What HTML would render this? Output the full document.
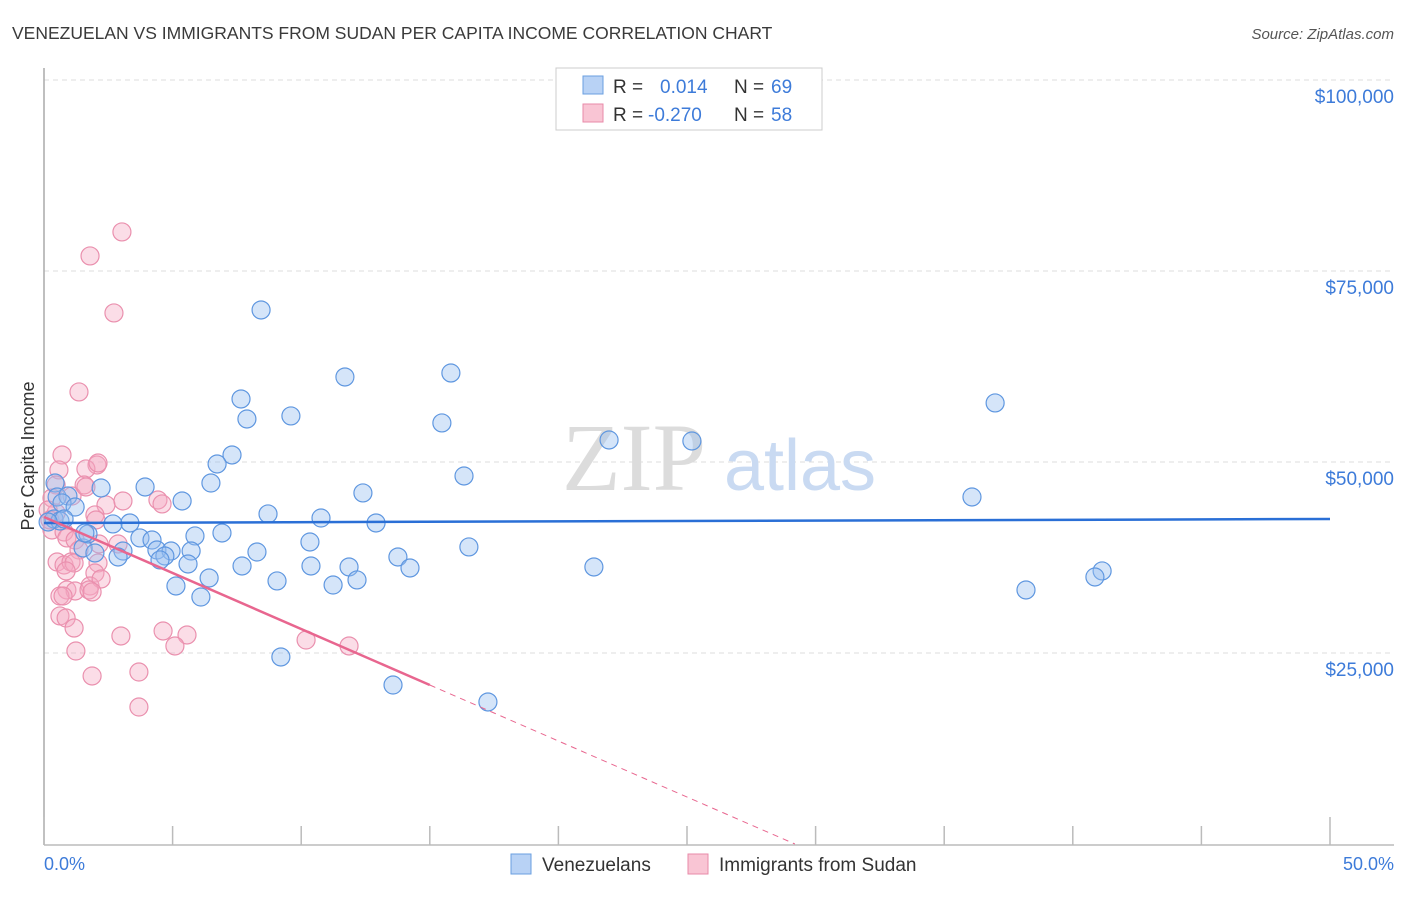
<!DOCTYPE html>
<html><head><meta charset="utf-8"><style>
body{margin:0;background:#fff;font-family:"Liberation Sans",sans-serif;}
svg text{font-family:"Liberation Sans",sans-serif;}
</style></head><body>
<svg id="chart" width="1406" height="892" xmlns="http://www.w3.org/2000/svg">
<text x="12" y="39" font-size="17.5" fill="#3a3a3a">VENEZUELAN VS IMMIGRANTS FROM SUDAN PER CAPITA INCOME CORRELATION CHART</text>
<text x="1394" y="39" font-size="15" fill="#555" text-anchor="end" font-style="italic">Source: ZipAtlas.com</text>
<g id="grid"></g>
<g>
<text x="634" y="490" font-size="96" fill="#dcdcdc" text-anchor="middle" font-family="Liberation Serif,serif" style="font-family:'Liberation Serif',serif">ZIP</text>
<text x="800" y="490" font-size="72" fill="#c9daf2" text-anchor="middle">atlas</text>
</g>
<line x1="44" y1="68" x2="44" y2="845" stroke="#aaa" stroke-width="1.5"/>
<line x1="44" y1="845" x2="1394" y2="845" stroke="#bbb" stroke-width="1.5"/>
<g id="xticks"></g>
<g id="ylabels"></g>
<text transform="translate(34,456) rotate(-90)" font-size="18" fill="#333" text-anchor="middle">Per Capita Income</text>
<text x="44" y="870" font-size="18" fill="#3d7bd9">0.0%</text>
<text x="1394" y="870" font-size="18" fill="#3d7bd9" text-anchor="end">50.0%</text>
<g id="pinkpts"></g>
<g id="bluepts"></g>
<g id="trends"></g>
<g>
<rect x="556" y="68" width="266" height="62" fill="#fff" stroke="#ccc"/>
<rect x="583" y="76" width="20" height="18" fill="#b8d2f5" stroke="#6a9fe0"/>
<rect x="583" y="104" width="20" height="18" fill="#f9c5d4" stroke="#e88aa8"/>
<text x="613" y="93" font-size="19" fill="#333">R = </text><text x="660" y="93" font-size="19" fill="#3d7bd9">0.014</text>
<text x="734" y="93" font-size="19" fill="#333">N = </text><text x="771" y="93" font-size="19" fill="#3d7bd9">69</text>
<text x="613" y="121" font-size="19" fill="#333">R = </text><text x="648" y="121" font-size="19" fill="#3d7bd9">-0.270</text>
<text x="734" y="121" font-size="19" fill="#333">N = </text><text x="771" y="121" font-size="19" fill="#3d7bd9">58</text>
</g>
<g>
<g><rect x="511" y="854" width="20" height="20" fill="#b8d2f5" stroke="#6a9fe0"/><text x="542" y="871" font-size="19" fill="#333">Venezuelans</text></g>
<g><rect x="688" y="854" width="20" height="20" fill="#f9c5d4" stroke="#e88aa8"/><text x="719" y="871" font-size="19" fill="#333">Immigrants from Sudan</text></g>
</g>
</svg>
<script>
const yTicks=[25000,50000,75000,100000];
const yTickLabels=["$25,000","$50,000","$75,000","$100,000"];
const xTicks=[0,5,10,15,20,25,30,35,40,45,50];
const blueX=[8.44,11.70,15.82,7.66,7.89,9.60,15.47,21.97,25.19,36.98,7.31,6.73,16.33,6.49,5.37,3.93,2.22,12.40,36.08,8.71,10.77,12.91,3.34,2.68,3.73,4.20,5.87,6.92,10.34,16.52,1.52,1.98,3.07,2.88,4.39,4.94,5.72,4.70,4.51,5.60,8.28,7.70,13.76,11.86,10.38,14.23,21.38,41.14,40.86,38.18,9.06,6.42,5.13,11.24,12.17,6.10,9.21,13.57,17.26,0.43,0.51,0.93,0.70,1.21,0.39,0.62,0.78,0.16,1.71,1.59];
const blueY=[69900,61130,61650,58250,55630,56030,55110,52880,52750,57730,50920,49740,48170,47250,44900,46730,46600,45950,45420,43200,42670,42020,42020,41890,40060,39790,40320,40710,39530,38880,38750,38090,38350,37570,38480,38350,38350,37700,37180,36650,38220,36390,37570,36260,36390,36130,36260,35740,34950,33250,34430,34820,33770,33900,34560,32330,24480,20810,18590,47250,45420,45550,44640,44110,42540,42280,42540,42150,40580,40710];
const pinkX=[3.03,1.79,2.72,1.36,0.70,0.58,2.06,1.63,2.10,0.47,1.56,1.09,1.63,2.41,0.31,3.07,4.43,4.59,0.47,0.31,0.78,1.98,2.02,0.89,2.14,1.21,2.88,1.36,0.51,0.78,1.05,1.17,0.86,2.10,1.98,1.79,2.22,0.89,1.21,1.75,0.62,1.87,0.62,0.74,0.86,1.17,2.99,4.63,5.56,5.09,10.19,11.86,1.24,1.87,3.69,3.69,0.16,0.23];
const pinkY=[80110,76970,69510,59170,50920,48960,49610,49090,49870,46990,46990,45550,46730,44380,45290,44900,45030,44510,43330,41100,40840,43070,42410,40060,39270,39790,39270,38480,36910,36520,36910,36780,35740,36780,35470,33770,34690,33250,33120,33250,32460,32990,29850,32460,29580,28270,27230,27880,27360,25920,26700,25920,25260,21990,22510,17930,43720,42410];
const blueTrend=[42020,42540];      // value at 0% and 50%
const pinkTrend=[42800,-1466];      // intercept, slope per %
const pinkSolidEnd=15;

const NS="http://www.w3.org/2000/svg";
const X0=44,X1=1330,Y0=844,YTOP=80;
const sx=v=>X0+(v/50)*(X1-X0);
const sy=v=>Y0-(v/100000)*(Y0-YTOP);
function mk(tag,attrs,parent){const e=document.createElementNS(NS,tag);for(const k in attrs)e.setAttribute(k,attrs[k]);parent.appendChild(e);return e;}
const grid=document.getElementById('grid'),yl=document.getElementById('ylabels'),xt=document.getElementById('xticks');
yTicks.forEach((t,i)=>{
  const g=mk('line',{x1:44,x2:1394,y1:sy(t),y2:sy(t),stroke:'#ddd','stroke-dasharray':'5,4'},grid);
  
  
  const tx=mk('text',{x:1394,y:sy(t)+23,'font-size':19,fill:'#3d7bd9','text-anchor':'end'},yl);
  tx.textContent=yTickLabels[i];
  
  
});
xTicks.forEach((t,i)=>{
  const big=(i===0||i===xTicks.length-1);
  const l=mk('line',{x1:sx(t),x2:sx(t),y1:big?817:826,y2:845,stroke:'#bbb','stroke-width':1.5},xt);
  
  
});
function pts(xs,ys,parentId,fill,stroke,name){
  const p=document.getElementById(parentId);
  xs.forEach((x,i)=>{
    const c=mk('circle',{cx:sx(x),cy:sy(ys[i]),r:9,fill:fill,stroke:stroke,'stroke-width':1.2},p);
    
    
  });
}
pts(pinkX,pinkY,'pinkpts','rgba(246,170,195,0.4)','#ea90ae','sudan-point');
pts(blueX,blueY,'bluepts','rgba(150,190,240,0.4)','#5f97e0','venezuelan-point');
const tr=document.getElementById('trends');
const bl=mk('line',{x1:sx(0),y1:sy(blueTrend[0]),x2:sx(50),y2:sy(blueTrend[1]),stroke:'#2a6fd6','stroke-width':2.5},tr);


const pv=x=>pinkTrend[0]+pinkTrend[1]*x;
const zeroX=-pinkTrend[0]/pinkTrend[1];
const pl=mk('line',{x1:sx(0),y1:sy(pv(0)),x2:sx(pinkSolidEnd),y2:sy(pv(pinkSolidEnd)),stroke:'#e8668f','stroke-width':2.5},tr);


const pd=mk('line',{x1:sx(pinkSolidEnd),y1:sy(pv(pinkSolidEnd)),x2:sx(zeroX),y2:sy(0),stroke:'#e8668f','stroke-width':1,'stroke-dasharray':'6,5'},tr);


</script>
</body></html>
